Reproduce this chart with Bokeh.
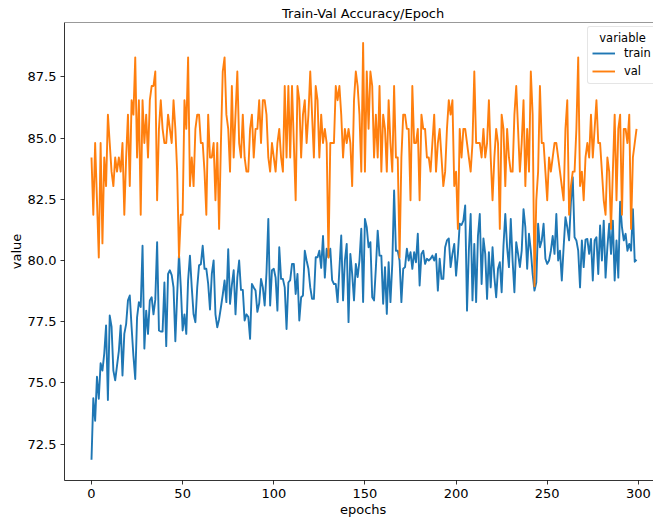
from bokeh.plotting import figure
from bokeh.models import FixedTicker, Legend, LegendItem, Span, PrintfTickFormatter
from bokeh.embed import file_html
from bokeh.resources import INLINE

# ---------------- data ----------------
epochs = list(range(300))

train = [
    71.86, 74.37, 73.45, 75.25, 74.35, 75.80, 75.50, 76.20, 77.35, 74.30,
    77.75, 77.30, 75.50, 75.10, 75.70, 76.30, 77.35, 75.30, 77.00, 77.40,
    78.37, 78.57, 77.27, 76.10, 75.16, 77.68, 78.30, 78.10, 80.60, 76.40,
    77.95, 77.00, 78.37, 78.50, 77.80, 78.40, 80.75, 77.14, 77.10, 77.10,
    79.10, 76.50, 79.45, 79.60, 79.40, 78.90, 76.70, 78.60, 80.27, 78.90,
    77.14, 77.80, 77.00, 79.20, 80.20, 78.90, 77.80, 77.48, 78.90, 79.80,
    79.85, 80.60, 79.66, 79.66, 79.05, 78.00, 79.45, 80.00, 77.80, 77.27,
    77.60, 78.09, 78.60, 79.18, 78.30, 80.46, 78.23, 79.00, 79.60, 77.80,
    79.30, 80.00, 78.80, 78.80, 77.55, 77.80, 77.70, 76.80, 79.04, 78.90,
    78.77, 77.90, 78.25, 79.25, 78.90, 78.16, 79.50, 81.70, 78.16, 79.60,
    79.66, 79.30, 77.95, 80.54, 79.25, 79.25, 78.90, 77.20, 79.10, 79.20,
    79.86, 79.86, 78.63, 79.45, 77.55, 78.50, 78.57, 80.40, 80.00, 79.66,
    78.90, 78.43, 78.43, 80.13, 80.13, 80.40, 79.70, 81.00, 79.30, 80.48,
    80.13, 80.48, 79.20, 79.04, 79.04, 78.30, 79.66, 81.02, 78.37, 80.00,
    80.68, 77.48, 80.27, 79.45, 78.37, 79.86, 79.32, 80.00, 81.30, 78.30,
    81.70, 81.36, 80.54, 80.75, 78.50, 78.37, 79.70, 81.22, 80.20, 80.20,
    78.23, 79.73, 77.82, 79.93, 78.30, 79.86, 82.86, 80.40, 80.40, 80.00,
    78.30, 79.66, 79.73, 80.48, 80.00, 80.34, 79.66, 80.34, 79.93, 81.09,
    78.98, 80.27, 80.40, 79.86, 80.07, 80.00, 80.07, 80.20, 80.00, 80.27,
    78.77, 80.07, 79.25, 79.25, 80.54, 80.82, 80.90, 79.73, 80.27, 80.68,
    79.38, 80.27, 81.50, 81.45, 81.63, 82.25, 77.95, 80.40, 81.90, 78.37,
    80.68, 78.30, 81.00, 81.90, 79.04, 80.90, 80.27, 78.43, 80.34, 78.90,
    80.54, 79.32, 78.50, 79.66, 79.93, 78.70, 80.60, 81.90, 80.54, 79.73,
    81.70, 80.00, 78.70, 80.75, 80.27, 79.73, 80.40, 82.10, 81.36, 79.66,
    81.09, 80.40, 79.45, 78.77, 79.10, 81.50, 80.54, 80.82, 81.50, 80.07,
    79.86, 80.00, 80.40, 81.00, 80.27, 81.90, 80.00, 80.40, 79.18, 80.54,
    81.77, 81.36, 80.82, 82.38, 83.40, 80.95, 80.82, 80.40, 78.90, 80.82,
    79.73, 80.85, 80.88, 80.27, 80.88, 79.18, 80.82, 80.95, 79.45, 81.43,
    80.00, 81.63, 79.30, 80.54, 81.50, 80.27, 81.63, 79.18, 80.82, 79.30,
    82.40, 81.36, 80.82, 81.09, 80.40, 80.68, 80.40, 82.10, 79.95, 80.03,
]

val = [
    84.21, 81.87, 84.80, 82.46, 80.12, 84.80, 80.70, 84.21, 83.04, 85.96,
    84.80, 83.63, 83.04, 84.21, 83.63, 84.21, 83.63, 84.80, 81.87, 84.21,
    85.96, 83.04, 86.55, 85.96, 88.30, 84.21, 86.55, 81.87, 86.55, 84.80,
    85.96, 84.21, 86.55, 87.13, 87.13, 87.72, 82.46, 85.38, 86.55, 85.38,
    84.80, 84.80, 85.96, 85.38, 84.80, 86.55, 85.38, 83.63, 80.12, 81.87,
    81.87, 86.55, 85.38, 88.30, 83.04, 84.21, 83.04, 85.38, 85.96, 85.96,
    84.80, 84.80, 83.63, 81.87, 85.96, 84.21, 84.21, 84.80, 82.46, 84.80,
    81.29, 84.80, 87.72, 88.30, 85.96, 85.38, 83.63, 87.13, 84.21, 85.96,
    87.72, 84.80, 84.21, 85.96, 84.21, 83.63, 83.63, 85.38, 85.96, 84.21,
    85.38, 85.38, 86.55, 84.80, 86.55, 86.55, 85.96, 84.21, 83.63, 84.80,
    84.21, 83.63, 84.80, 85.38, 84.21, 83.63, 87.13, 84.21, 87.13, 84.21,
    87.13, 84.80, 82.46, 87.13, 86.55, 84.21, 85.96, 86.55, 84.80, 85.96,
    87.72, 85.96, 84.21, 87.13, 86.55, 84.21, 85.96, 84.80, 85.38, 84.80,
    80.12, 84.80, 84.80, 84.80, 87.13, 86.55, 87.13, 85.96, 84.21, 85.38,
    84.80, 85.38, 84.80, 83.04, 86.55, 87.72, 87.13, 85.96, 83.63, 88.89,
    83.63, 87.72, 85.38, 87.72, 87.13, 84.21, 85.96, 84.21, 87.13, 83.63,
    85.96, 85.38, 83.63, 86.55, 84.80, 83.63, 87.13, 84.21, 84.21, 80.12,
    84.21, 85.96, 85.96, 85.38, 85.38, 82.46, 87.13, 84.80, 84.80, 85.38,
    82.46, 85.96, 85.38, 85.38, 84.21, 84.21, 83.63, 84.80, 85.96, 83.63,
    84.80, 85.38, 84.21, 83.04, 83.63, 85.38, 86.55, 85.96, 86.55, 83.04,
    83.63, 81.29, 85.38, 84.21, 85.38, 85.38, 84.80, 84.21, 83.63, 84.80,
    87.72, 84.80, 84.80, 84.80, 84.21, 85.38, 84.21, 84.80, 86.55, 84.21,
    82.46, 84.21, 85.38, 84.80, 81.29, 85.96, 85.38, 83.04, 85.38, 84.21,
    83.63, 83.63, 85.96, 87.13, 85.38, 83.63, 84.80, 86.55, 83.04, 85.38,
    83.63, 87.72, 85.96, 78.95, 82.46, 83.63, 87.13, 84.80, 84.80, 83.63,
    82.46, 84.21, 83.63, 84.21, 84.80, 84.80, 84.21, 83.63, 83.04, 82.46,
    85.38, 86.55, 81.87, 83.04, 83.63, 83.63, 85.38, 88.30, 83.04, 83.63,
    82.46, 84.21, 84.80, 84.21, 85.96, 84.21, 85.38, 86.55, 84.80, 84.80,
    83.63, 82.46, 81.87, 84.21, 83.63, 81.29, 83.63, 85.96, 82.46, 85.38,
    85.96, 81.87, 85.38, 85.38, 84.80, 85.96, 81.29, 84.21, 84.80, 85.38,
]

x_ticks = [0, 50, 100, 150, 200, 250, 300]
y_ticks = [72.5, 75.0, 77.5, 80.0, 82.5, 85.0, 87.5]

# ---------------- figure ----------------
FONT = "DejaVu Sans"
TXT = "13px"
NB = "\u00a0"

p = figure(width=653, height=520,
           x_range=(-14.81, 308.3), y_range=(71.01, 89.725),
           output_backend="svg", toolbar_location=None,
           min_border_left=64, min_border_right=0,
           min_border_top=22, min_border_bottom=40,
           title=NB * 2 + "Train-Val Accuracy/Epoch")
p.background_fill_color = "white"
p.border_fill_color = "white"
p.outline_line_color = None
p.grid.visible = False

p.title.align = "center"
p.title.text_font = FONT
p.title.text_font_size = "13px"
p.title.text_font_style = "normal"
p.title.text_color = "black"
p.title.standoff = 0
p.title.vertical_align = "top"

r_train = p.line(epochs, train, line_color="#1f77b4", line_width=1.9, line_join="round")
r_val = p.line(epochs, val, line_color="#ff7f0e", line_width=1.9, line_join="round")

for ax in (p.xaxis[0], p.yaxis[0]):
    ax.axis_line_color = "black"
    ax.axis_line_width = 0.8
    ax.major_tick_line_color = "black"
    ax.major_tick_line_width = 0.8
    ax.major_tick_out = 4
    ax.major_tick_in = 0
    ax.minor_tick_line_color = None
    ax.major_label_text_font = FONT
    ax.major_label_text_font_size = TXT
    ax.major_label_text_color = "black"
    ax.major_label_standoff = 4
    ax.axis_label_text_font = FONT
    ax.axis_label_text_font_size = TXT
    ax.axis_label_text_font_style = "normal"
    ax.axis_label_text_color = "black"

p.xaxis.ticker = FixedTicker(ticks=x_ticks)
p.yaxis.ticker = FixedTicker(ticks=y_ticks)
p.yaxis.formatter = PrintfTickFormatter(format="%.1f")
p.xaxis.axis_label = NB * 2 + "epochs"
p.xaxis.axis_label_standoff = 1
p.yaxis.axis_label = "value"
p.yaxis.axis_label_standoff = 1

# top spine
p.add_layout(Span(location=89.725, dimension="width", line_color="black", line_width=0.8))

LEG = "11.5px"
legend = Legend(items=[LegendItem(label="train", renderers=[r_train]),
                       LegendItem(label="val", renderers=[r_val])],
                title=NB * 2 + "variable",
                location=(523, 396))
legend.title_text_font = FONT
legend.title_text_font_size = LEG
legend.title_text_font_style = "normal"
legend.title_text_color = "black"
legend.title_standoff = 0
legend.label_text_font = FONT
legend.label_text_font_size = LEG
legend.label_text_color = "black"
legend.glyph_width = 23
legend.glyph_height = 16
legend.label_height = 16
legend.label_standoff = 9
legend.spacing = 2
legend.padding = 4
legend.margin = 0
legend.border_line_color = "#cccccc"
legend.border_line_width = 1
legend.background_fill_alpha = 0.8
legend.border_radius = 3
p.add_layout(legend)

open("out.html", "w").write(file_html(p, INLINE))
